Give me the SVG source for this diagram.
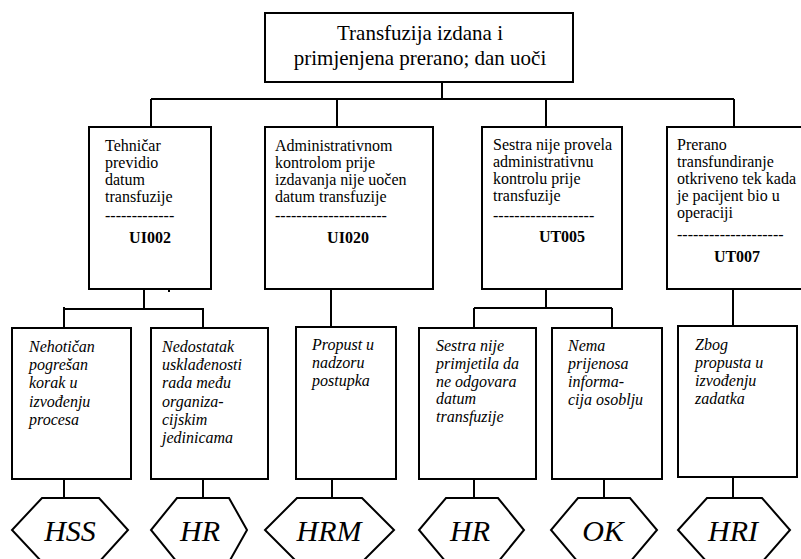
<svg xmlns="http://www.w3.org/2000/svg" width="801" height="559" viewBox="0 0 801 559" font-family="'Liberation Serif', 'Times New Roman', 'DejaVu Serif', serif">
<style>
.box{fill:#fff;stroke:#000;stroke-width:2}
.hex{fill:#fff;stroke:#000;stroke-width:2}
.ln{fill:none;stroke:#000;stroke-width:2}
text, tspan{font-family:'Liberation Serif', 'Times New Roman', 'DejaVu Serif', serif;fill:#000}
.top{font-size:21px;text-anchor:middle}
.mid{font-size:16px}
.code{font-size:16px;font-weight:bold;text-anchor:middle}
.it{font-size:16px;font-style:italic}
.hx{font-size:30px;font-style:italic;text-anchor:middle}
</style>
<rect width="801" height="559" fill="#fff"/>
<g id="connectors">
<path class="ln" d="M442 82V99M151 99H734M151 99V127M337 99V127M546 99V127M734 99V127"/>
<path class="ln" d="M144 289V309M64 307V328M64 309H203V328M169 289V292"/>
<path class="ln" d="M331 289V327"/>
<path class="ln" d="M546 289V308M474 308H612M474 308V328M612 308V328"/>
<path class="ln" d="M733 289V326"/>
<path class="ln" d="M64 479V498M203 477V498M332 477V498M474 479V498M604 478V498M733 476V498"/>
</g>
<g id="root">
<rect class="box" x="265" y="13" width="308" height="69"/>
<text class="top" x="420" y="40">Transfuzija izdana i</text>
<text class="top" x="420" y="65">primjenjena prerano; dan uoči</text>
</g>
<g id="UI002">
<rect class="box" x="89" y="127" width="122" height="162"/>
<text class="mid" x="105"><tspan x="105" y="151">Tehničar</tspan><tspan x="105" y="168">previdio</tspan><tspan x="105" y="185">datum</tspan><tspan x="105" y="202">transfuzije</tspan><tspan x="105" y="221">-------------</tspan></text>
<text class="code" x="150" y="243">UI002</text>
</g>
<g id="UI020">
<rect class="box" x="265" y="127" width="168" height="162"/>
<text class="mid"><tspan x="275" y="151">Administrativnom</tspan><tspan x="275" y="168">kontrolom prije</tspan><tspan x="275" y="185">izdavanja nije uočen</tspan><tspan x="275" y="202">datum transfuzije</tspan><tspan x="275" y="221">---------------------</tspan></text>
<text class="code" x="348" y="243">UI020</text>
</g>
<g id="UT005">
<rect class="box" x="482" y="127" width="140" height="162"/>
<text class="mid"><tspan x="493" y="150">Sestra nije provela</tspan><tspan x="493" y="167">administrativnu</tspan><tspan x="493" y="184">kontrolu prije</tspan><tspan x="493" y="201">transfuzije</tspan><tspan x="493" y="221">-------------------</tspan></text>
<text class="code" x="562" y="242">UT005</text>
</g>
<g id="UT007">
<rect class="box" x="667" y="127" width="136" height="162"/>
<text class="mid"><tspan x="677" y="150">Prerano</tspan><tspan x="677" y="167">transfundiranje</tspan><tspan x="677" y="184">otkriveno tek kada</tspan><tspan x="677" y="201">je pacijent bio u</tspan><tspan x="677" y="218">operaciji</tspan><tspan x="677" y="240">--------------------</tspan></text>
<text class="code" x="737" y="262">UT007</text>
</g>
<g id="c1">
<rect class="box" x="12" y="328" width="119" height="151"/>
<text class="it"><tspan x="29" y="352">Nehotičan</tspan><tspan x="29" y="370">pogrešan</tspan><tspan x="29" y="388">korak u</tspan><tspan x="29" y="407">izvođenju</tspan><tspan x="29" y="425">procesa</tspan></text>
</g>
<g id="c2">
<rect class="box" x="151" y="328" width="117" height="151"/>
<text class="it"><tspan x="162" y="352">Nedostatak</tspan><tspan x="162" y="370">usklađenosti</tspan><tspan x="162" y="388">rada među</tspan><tspan x="162" y="407">organiza-</tspan><tspan x="162" y="425">cijskim</tspan><tspan x="162" y="443">jedinicama</tspan></text>
</g>
<g id="c3">
<rect class="box" x="296" y="327" width="100" height="152"/>
<text class="it"><tspan x="312" y="350">Propust u</tspan><tspan x="312" y="368">nadzoru</tspan><tspan x="312" y="386">postupka</tspan></text>
</g>
<g id="c4">
<rect class="box" x="419" y="328" width="117" height="151"/>
<text class="it"><tspan x="436" y="351">Sestra nije</tspan><tspan x="436" y="369">primjetila da</tspan><tspan x="436" y="387">ne odgovara</tspan><tspan x="436" y="404">datum</tspan><tspan x="436" y="422">transfuzije</tspan></text>
</g>
<g id="c5">
<rect class="box" x="552" y="328" width="110" height="151"/>
<text class="it"><tspan x="568" y="351">Nema</tspan><tspan x="568" y="369">prijenosa</tspan><tspan x="568" y="387">informa-</tspan><tspan x="568" y="405">cija osoblju</tspan></text>
</g>
<g id="c6">
<rect class="box" x="678" y="326" width="119" height="151"/>
<text class="it"><tspan x="695" y="350">Zbog</tspan><tspan x="695" y="368">propusta u</tspan><tspan x="695" y="386">izvođenju</tspan><tspan x="695" y="404">zadatka</tspan></text>
</g>
<g id="h1"><polygon class="hex" points="42,498 99,498 128,530 99,562 42,562 12,530"/><text class="hx" x="70" y="541">HSS</text></g>
<g id="h2"><polygon class="hex" points="177,498 229,498 247,530 229,562 177,562 151,530"/><text class="hx" x="200" y="541">HR</text></g>
<g id="h3"><polygon class="hex" points="297,498 362,498 394,530 362,562 297,562 265,530"/><text class="hx" x="329" y="541">HRM</text></g>
<g id="h4"><polygon class="hex" points="446,498 498,498 524,530 498,562 446,562 419,530"/><text class="hx" x="470" y="541">HR</text></g>
<g id="h5"><polygon class="hex" points="578,498 630,498 657,530 630,562 578,562 551,530"/><text class="hx" x="603" y="541">OK</text></g>
<g id="h6"><polygon class="hex" points="707,498 762,498 790,530 762,562 707,562 678,530"/><text class="hx" x="733" y="541">HRI</text></g>
</svg>
